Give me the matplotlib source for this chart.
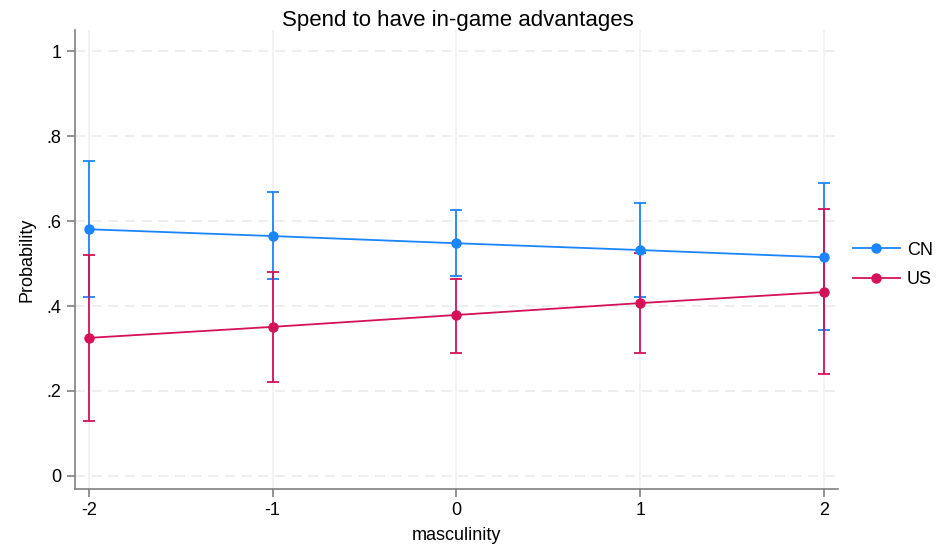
import matplotlib.pyplot as plt
from matplotlib.lines import Line2D
import numpy as np

plt.rcParams['font.family'] = ['Liberation Sans', 'DejaVu Sans']

# predicted probabilities with 95% CIs by masculinity
masculinity = [-2, -1, 0, 1, 2]
cn_prob = [0.581, 0.565, 0.548, 0.532, 0.515]
cn_lo = [0.421, 0.464, 0.471, 0.421, 0.343]
cn_hi = [0.741, 0.668, 0.626, 0.643, 0.689]
us_prob = [0.325, 0.351, 0.379, 0.407, 0.433]
us_lo = [0.129, 0.221, 0.290, 0.289, 0.241]
us_hi = [0.520, 0.480, 0.464, 0.525, 0.628]
yticks = [0, 0.2, 0.4, 0.6, 0.8, 1]
ytick_labels = ['0', '.2', '.4', '.6', '.8', '1']

blue = '#1a85ff'
red = '#d41159'

fig = plt.figure(figsize=(9.47, 5.5), dpi=100)
ax = fig.add_axes([0.079, 0.111, 0.806, 0.834])

handles = []
for prob, lo, hi, col, name in [(cn_prob, cn_lo, cn_hi, blue, 'CN'),
                                (us_prob, us_lo, us_hi, red, 'US')]:
    prob = np.array(prob)
    err = [prob - np.array(lo), np.array(hi) - prob]
    ax.errorbar(masculinity, prob, yerr=err, color=col, lw=1.3,
                elinewidth=1.3, capsize=4, capthick=1.3,
                marker='o', ms=6.5, zorder=3)
    handles.append(Line2D([], [], color=col, lw=1.3, marker='o', ms=6.5,
                          label=name))

ax.set_xlim(-2.076, 2.076)
ax.set_ylim(-0.031, 1.05)
ax.set_xticks(masculinity)
ax.set_xticklabels([str(v) for v in masculinity])
ax.set_yticks(yticks)
ax.set_yticklabels(ytick_labels)

ax.grid(axis='y', color='#ebebeb', lw=1.2, ls=(0, (6, 4)))
ax.grid(axis='x', color='#f0f0f0', lw=1.2)
ax.set_axisbelow(True)

for side in ['top', 'right']:
    ax.spines[side].set_visible(False)
for side in ['left', 'bottom']:
    ax.spines[side].set_color('#808080')
    ax.spines[side].set_linewidth(1.2)
ax.tick_params(colors='#808080', labelcolor='black', labelsize=13,
               length=6, width=1.2)

fig.text(0.483, 0.963, 'Spend to have in-game advantages', fontsize=16,
         ha='center', va='center')
ax.set_xlabel('masculinity', fontsize=13, labelpad=6)
ax.set_ylabel('Probability', fontsize=13, labelpad=8)

ax.legend(handles=handles, loc='center left', bbox_to_anchor=(0.998, 0.488),
          frameon=False, fontsize=13, handlelength=2.6, handletextpad=0.4,
          labelspacing=0.7)

fig.savefig('out.png', dpi=100)
